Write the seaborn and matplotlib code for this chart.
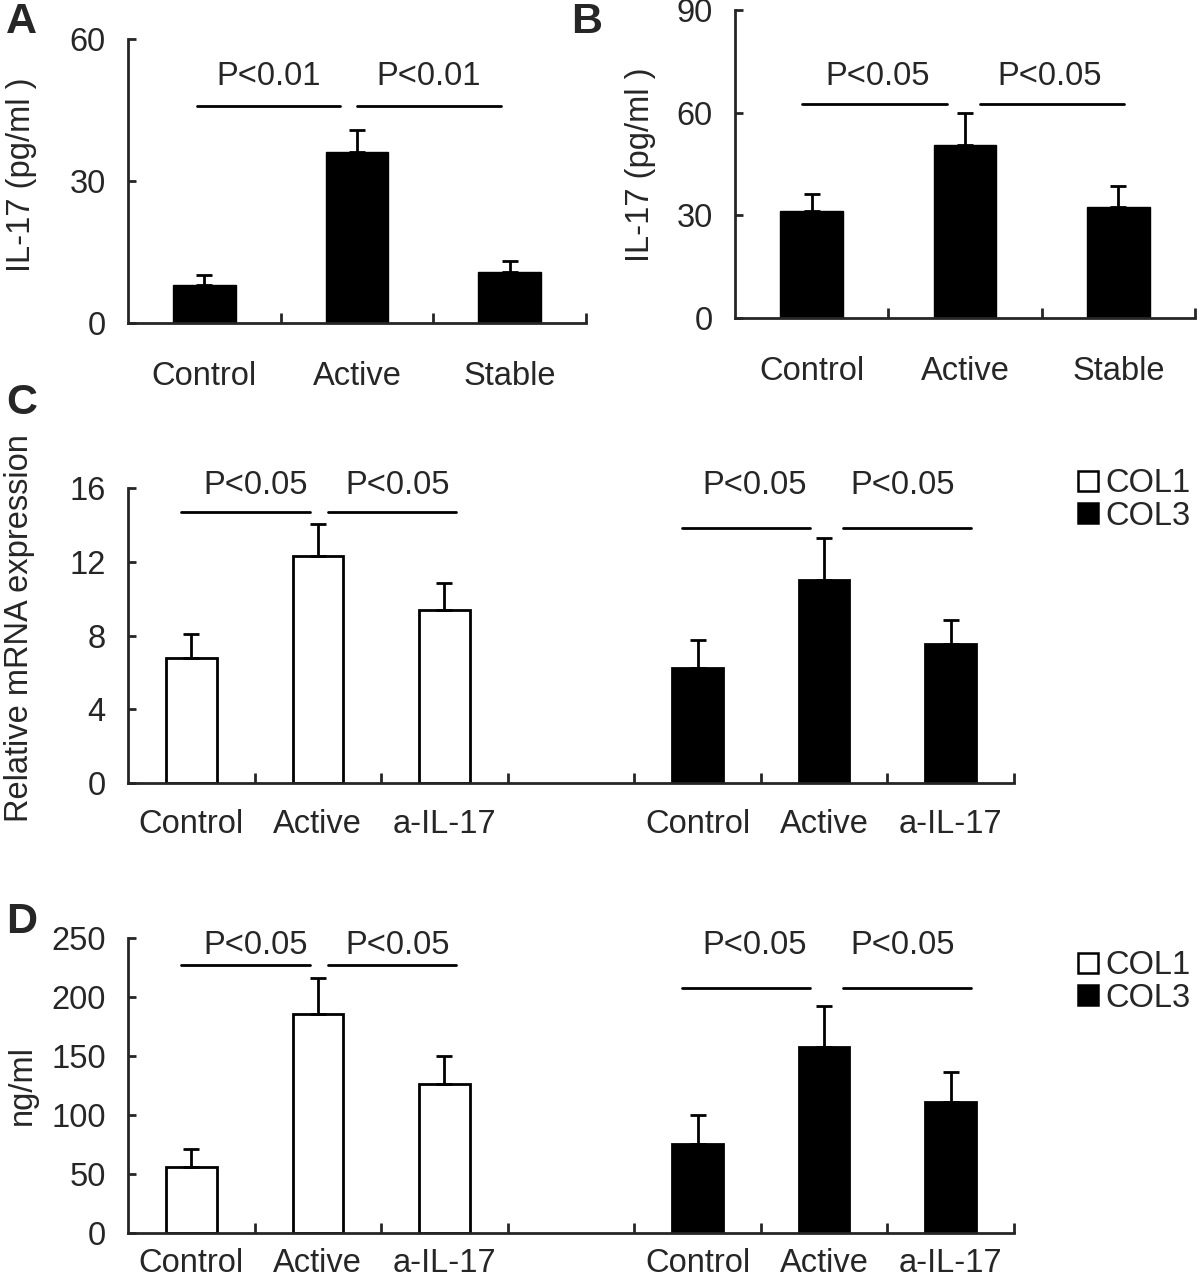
import numpy as np
import pandas as pd
import seaborn as sns
import matplotlib.pyplot as plt
from matplotlib.lines import Line2D
from matplotlib.ticker import FixedLocator

# panel A / B : serum IL-17
groups_ab = ['Control', 'Active', 'Stable']
il17_a = [8.1, 36.2, 10.8]
il17_a_err = [2.0, 4.6, 2.4]
il17_b = [31.3, 50.5, 32.3]
il17_b_err = [4.9, 9.5, 6.3]

# panel C / D : collagen
groups_cd = ['Control', 'Active', 'a-IL-17']
mrna_col1 = [6.77, 12.33, 9.37]
mrna_col1_err = [1.30, 1.70, 1.50]
mrna_col3 = [6.23, 11.01, 7.53]
mrna_col3_err = [1.53, 2.29, 1.30]
prot_col1 = [55.8, 186.0, 126.1]
prot_col1_err = [15.3, 30.0, 23.9]
prot_col3 = [75.4, 157.9, 111.1]
prot_col3_err = [24.4, 34.6, 25.2]

FS = 23.5

sns.set_style('ticks')
plt.rcParams['font.family'] = ['Liberation Sans', 'DejaVu Sans']
plt.rcParams['font.size'] = FS
plt.rcParams['axes.linewidth'] = 2

W, H = 1200, 1281
fig = plt.figure(figsize=(12, 12.81), dpi=100)


def add_ax(x0, y0, x1, y1):
    # pixel box (left, top, right, bottom) -> figure fraction
    return fig.add_axes([x0 / W, 1 - y1 / H, (x1 - x0) / W, (y1 - y0) / H])


def style_ax(ax, labels, centers, yticks, xpad):
    n_edge = centers[-1] + 0.5
    ax.set_xlim(-0.5, n_edge)
    ax.set_ylim(yticks[0], yticks[-1])
    ax.set_yticks(yticks)
    ax.set_xticks(centers)
    ax.set_xticklabels(labels)
    ax.xaxis.set_minor_locator(FixedLocator(np.arange(0.5, n_edge + 0.01, 1)))
    ax.tick_params(axis='x', which='major', length=0, pad=xpad, labelsize=FS)
    ax.tick_params(axis='x', which='minor', direction='in', length=7, width=2)
    ax.tick_params(axis='y', direction='in', length=6, width=2, pad=16, labelsize=FS)
    ax.set_xlabel('')
    ax.set_ylabel('')
    sns.despine(ax=ax)


def add_brackets(ax, spans, y, texts_x, text_y, label):
    for (a, b), tx in zip(spans, texts_x):
        ax.plot([a, b], [y, y], color='black', lw=2, clip_on=False)
        ax.text(tx, text_y, label, ha='center', va='center', fontsize=FS)


# ---- A ----
ax_a = add_ax(128, 39, 586, 323)
sns.barplot(x=groups_ab, y=il17_a, color='black', saturation=1, width=0.41,
            edgecolor='black', errorbar=None, ax=ax_a)
ax_a.errorbar(range(3), il17_a, yerr=[np.zeros(3), il17_a_err], fmt='none',
              ecolor='black', elinewidth=2, capsize=6, capthick=2)
style_ax(ax_a, groups_ab, [0, 1, 2], [0, 30, 60], 27)
add_brackets(ax_a, [(-0.05, 0.89), (1.0, 1.94)], 45.9, [0.42, 1.47], 52.0, 'P<0.01')

# ---- B ----
ax_b = add_ax(735, 10, 1195, 318)
sns.barplot(x=groups_ab, y=il17_b, color='black', saturation=1, width=0.41,
            edgecolor='black', errorbar=None, ax=ax_b)
ax_b.errorbar(range(3), il17_b, yerr=[np.zeros(3), il17_b_err], fmt='none',
              ecolor='black', elinewidth=2, capsize=6, capthick=2)
style_ax(ax_b, groups_ab, [0, 1, 2], [0, 30, 60, 90], 27)
add_brackets(ax_b, [(-0.06, 0.88), (1.10, 2.04)], 62.5, [0.43, 1.55], 70.6, 'P<0.05')


# ---- C / D ----
def collagen_panel(box, c1, c1e, c3, c3e, yticks, line_y1, line_y3, text_y, xpad):
    ax = add_ax(*box)
    pos1 = np.arange(3)
    pos3 = np.arange(3) + 4
    df = pd.DataFrame({
        'pos': np.concatenate([pos1, pos3]),
        'val': c1 + c3,
        'collagen': ['COL1'] * 3 + ['COL3'] * 3,
    })
    sns.barplot(data=df, x='pos', y='val', hue='collagen', native_scale=True,
                dodge=False, palette={'COL1': 'white', 'COL3': 'black'},
                saturation=1, width=0.4, edgecolor='black', linewidth=2,
                errorbar=None, legend=False, ax=ax)
    ax.errorbar(df['pos'], df['val'], yerr=[np.zeros(6), c1e + c3e], fmt='none',
                ecolor='black', elinewidth=2, capsize=6, capthick=2)
    style_ax(ax, groups_cd * 2, list(pos1) + list(pos3), yticks, xpad)
    add_brackets(ax, [(-0.08, 0.94), (1.08, 2.09)], line_y1, [0.51, 1.63], text_y, 'P<0.05')
    add_brackets(ax, [(3.88, 4.89), (5.15, 6.16)], line_y3, [4.45, 5.62], text_y, 'P<0.05')
    return ax


ax_c = collagen_panel((128, 488, 1014, 783), mrna_col1, mrna_col1_err,
                      mrna_col3, mrna_col3_err, [0, 4, 8, 12, 16],
                      14.7, 13.85, 16.15, 19)
ax_d = collagen_panel((128, 938, 1014, 1233), prot_col1, prot_col1_err,
                      prot_col3, prot_col3_err, [0, 50, 100, 150, 200, 250],
                      227.3, 208.0, 244.0, 11)

handles = [Line2D([], [], marker='s', ls='none', mfc='white', mec='black', ms=14, mew=1.8),
           Line2D([], [], marker='s', ls='none', mfc='black', mec='black', ms=14, mew=1.8)]
for top in (468, 950):
    fig.legend(handles, ['COL1', 'COL3'], loc='upper left',
               bbox_to_anchor=(1078 / W, 1 - top / H), frameon=False,
               handlelength=0.6, handletextpad=0.25, labelspacing=0.05,
               borderpad=0, borderaxespad=0, fontsize=FS)

# axis titles
fig.text(22 / W, 1 - 175 / H, 'IL-17 (pg/ml )', rotation=90, ha='center', va='center', fontsize=FS)
fig.text(640 / W, 1 - 165 / H, 'IL-17 (pg/ml )', rotation=90, ha='center', va='center', fontsize=FS)
fig.text(20 / W, 1 - 628 / H, 'Relative mRNA expression', rotation=90, ha='center', va='center', fontsize=FS)
fig.text(22 / W, 1 - 1085 / H, 'ng/ml', rotation=90, ha='center', va='center', fontsize=FS)

# panel letters
for letter, x, y in [('A', 6, 22), ('B', 571, 22), ('C', 6, 403), ('D', 6, 922)]:
    fig.text(x / W, 1 - y / H, letter, fontsize=31, fontweight='bold', ha='left', va='center')

fig.savefig('out.png', dpi=100)
